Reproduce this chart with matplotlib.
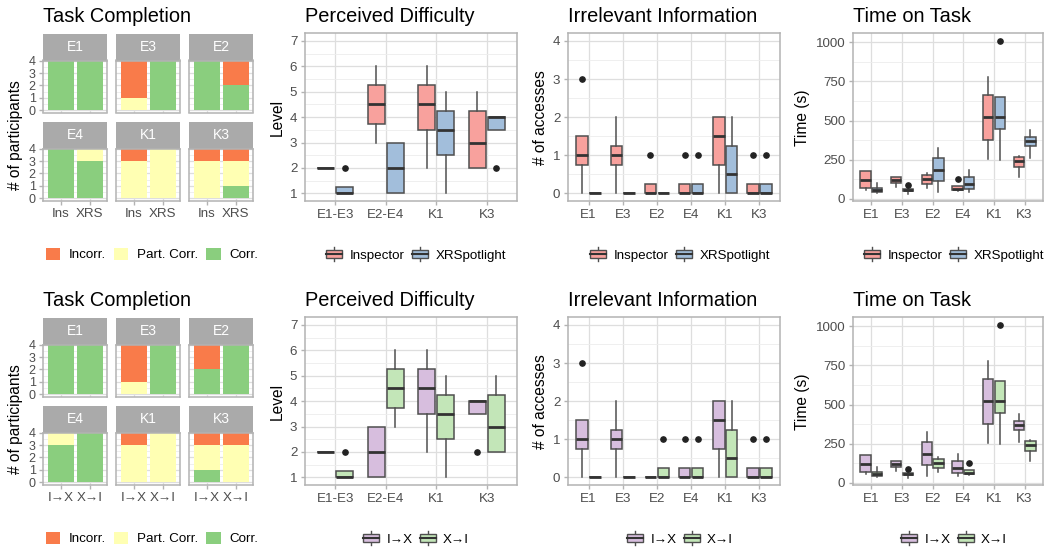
import numpy as np
import matplotlib
matplotlib.use('Agg')
import matplotlib.pyplot as plt
from matplotlib.patches import Rectangle, Patch
from matplotlib.lines import Line2D
from matplotlib.legend_handler import HandlerBase

plt.rcParams['font.family'] = ['Liberation Sans', 'DejaVu Sans']

# ── Dati ──────────────────────────────────────────────────────────────
tc_tasks = ['E1', 'E3', 'E2', 'E4', 'K1', 'K3']
tc_labels_top = ['Ins', 'XRS']
tc_labels_bot = ['I→X', 'X→I']
tc_levels = ['Incorr.', 'Part. Corr.', 'Corr.']

# riga alta: Inspector / XRSpotlight
tc_top_corr_a = [4, 0, 4, 4, 0, 0]
tc_top_part_a = [0, 1, 0, 0, 3, 3]
tc_top_inc_a  = [0, 3, 0, 0, 1, 1]
tc_top_corr_b = [4, 4, 2, 3, 0, 1]
tc_top_part_b = [0, 0, 0, 1, 4, 2]
tc_top_inc_b  = [0, 0, 2, 0, 0, 1]
# riga bassa: I->X / X->I
tc_bot_corr_a = [4, 0, 2, 3, 0, 1]
tc_bot_part_a = [0, 1, 0, 1, 3, 2]
tc_bot_inc_a  = [0, 3, 2, 0, 1, 1]
tc_bot_corr_b = [4, 4, 4, 4, 0, 0]
tc_bot_part_b = [0, 0, 0, 0, 4, 3]
tc_bot_inc_b  = [0, 0, 0, 0, 0, 1]

# boxplot stats: (whislo, q1, med, q3, whishi)
diff_cats = ['E1-E3', 'E2-E4', 'K1', 'K3']
diff_ins = [(2, 2, 2, 2, 2), (3, 3.75, 4.5, 5.25, 6), (2, 3.5, 4.5, 5.25, 6), (2, 2, 3, 4.25, 5)]
diff_ins_out = [[], [], [], []]
diff_xrs = [(1, 1, 1, 1.25, 1.25), (1, 1, 2, 3, 3), (1, 2.5, 3.5, 4.25, 5), (3.5, 3.5, 4, 4, 4)]
diff_xrs_out = [[2], [], [], [2]]
diff_ix = [(2, 2, 2, 2, 2), (1, 1, 2, 3, 3), (2, 3.5, 4.5, 5.25, 6), (3.5, 3.5, 4, 4, 4)]
diff_ix_out = [[], [], [], [2]]
diff_xi = [(1, 1, 1, 1.25, 1.25), (3, 3.75, 4.5, 5.25, 6), (1, 2.5, 3.5, 4.25, 5), (2, 2, 3, 4.25, 5)]
diff_xi_out = [[2], [], [], []]

irr_cats = ['E1', 'E3', 'E2', 'E4', 'K1', 'K3']
irr_ins = [(0, 0.75, 1, 1.5, 1.5), (0, 0.75, 1, 1.25, 2), (0, 0, 0, 0.25, 0.25),
           (0, 0, 0, 0.25, 0.25), (0, 0.75, 1.5, 2, 2), (0, 0, 0, 0.25, 0.25)]
irr_ins_out = [[3], [], [1], [1], [], [1]]
irr_xrs = [(0, 0, 0, 0, 0), (0, 0, 0, 0, 0), (0, 0, 0, 0, 0),
           (0, 0, 0, 0.25, 0.25), (0, 0, 0.5, 1.25, 2), (0, 0, 0, 0.25, 0.25)]
irr_xrs_out = [[], [], [], [1], [], [1]]
irr_ix = [(0, 0.75, 1, 1.5, 1.5), (0, 0.75, 1, 1.25, 2), (0, 0, 0, 0, 0),
          (0, 0, 0, 0.25, 0.25), (0, 0.75, 1.5, 2, 2), (0, 0, 0, 0.25, 0.25)]
irr_ix_out = [[3], [], [], [1], [], [1]]
irr_xi = [(0, 0, 0, 0, 0), (0, 0, 0, 0, 0), (0, 0, 0, 0.25, 0.25),
          (0, 0, 0, 0.25, 0.25), (0, 0, 0.5, 1.25, 2), (0, 0, 0, 0.25, 0.25)]
irr_xi_out = [[], [], [1], [1], [], [1]]

time_cats = ['E1', 'E3', 'E2', 'E4', 'K1', 'K3']
time_ins = [(60, 67, 124, 176, 178), (75, 103, 122, 138, 140), (68, 98, 128, 150, 165),
            (52, 55, 65, 80, 82), (258, 375, 520, 665, 780), (138, 203, 245, 268, 272)]
time_ins_out = [[], [], [], [128], [], []]
time_xrs = [(38, 42, 55, 70, 100), (32, 48, 55, 65, 70), (45, 112, 186, 262, 325),
            (45, 62, 98, 138, 182), (250, 448, 525, 652, 652), (260, 335, 367, 395, 440)]
time_xrs_out = [[], [92], [], [], [1005], []]
time_ix = [(60, 67, 124, 176, 178), (75, 103, 122, 138, 140), (45, 112, 186, 262, 325),
           (45, 62, 98, 138, 182), (258, 375, 520, 665, 780), (260, 335, 367, 395, 440)]
time_ix_out = [[], [], [], [], [], []]
time_xi = [(38, 42, 55, 70, 100), (32, 48, 55, 65, 70), (68, 98, 128, 150, 165),
           (52, 55, 65, 80, 82), (250, 448, 525, 652, 652), (138, 203, 245, 268, 272)]
time_xi_out = [[], [92], [], [128], [1005], []]

# ── Stile ─────────────────────────────────────────────────────────────
C_INC, C_PART, C_CORR = '#F97B4A', '#FFFFB3', '#8ACE7E'
C_INS, C_XRS = '#F8A19D', '#A2BEDB'
C_IX, C_XI = '#D7BEDE', '#C3E6B8'
EDGE, MED = '#4F4F4F', '#333333'
BORDER, GRID, GRID_MIN = '#B3B3B3', '#DEDEDE', '#EDEDED'
TICKLAB = '#4D4D4D'

W, H = 1053, 551
fig = plt.figure(figsize=(W / 100, H / 100), dpi=100)


def rect(x, y, w, h):
    return [x / W, 1 - (y + h) / H, w / W, h / H]


def style(ax):
    for s in ax.spines.values():
        s.set_color(BORDER)
        s.set_linewidth(1.1)
    ax.tick_params(which='major', colors=BORDER, labelcolor=TICKLAB, length=3,
                   width=1, labelsize=9.6, pad=2.5)
    ax.tick_params(which='minor', length=0)
    ax.grid(which='major', color=GRID, lw=0.9)
    ax.grid(which='minor', axis='y', color=GRID_MIN, lw=0.6)
    ax.set_axisbelow(True)


class BoxKey(HandlerBase):
    def create_artists(self, legend, orig, xd, yd, w, h, fs, trans):
        x0, y0 = -xd, -yd
        cx = x0 + w / 2
        fc = orig.get_facecolor()
        wl = Line2D([cx, cx], [y0, y0 + 0.22 * h], color=EDGE, lw=1, transform=trans)
        wh = Line2D([cx, cx], [y0 + 0.78 * h, y0 + h], color=EDGE, lw=1, transform=trans)
        r = Rectangle((x0, y0 + 0.22 * h), w, 0.56 * h, facecolor=fc, edgecolor=EDGE,
                      lw=1, transform=trans)
        m = Line2D([x0, x0 + w], [y0 + h / 2] * 2, color=MED, lw=1.5, transform=trans)
        return [wl, wh, r, m]


def draw_facets(dy, xlabels, corr_a, part_a, inc_a, corr_b, part_b, inc_b):
    fx = [43.3, 116.3, 189.3]
    strip_top = [34, 122]
    for k, task in enumerate(tc_tasks):
        r, c = divmod(k, 3)
        st = ax_s = fig.add_axes(rect(fx[c], strip_top[r] + dy, 64, 26.5))
        ax_s.set_facecolor('#AAAAAA')
        ax_s.set_xticks([]); ax_s.set_yticks([])
        for s in ax_s.spines.values():
            s.set_visible(False)
        ax_s.text(0.5, 0.5, task, color='white', fontsize=10, ha='center', va='center',
                  transform=ax_s.transAxes)
        ax = fig.add_axes(rect(fx[c], strip_top[r] + 26.5 + dy, 64, 52))
        style(ax)
        x = np.array([1, 2])
        cv = np.array([corr_a[k], corr_b[k]])
        pv = np.array([part_a[k], part_b[k]])
        iv = np.array([inc_a[k], inc_b[k]])
        ax.bar(x, cv, width=0.9, color=C_CORR)
        ax.bar(x, pv, width=0.9, bottom=cv, color=C_PART)
        ax.bar(x, iv, width=0.9, bottom=cv + pv, color=C_INC)
        ax.set_xlim(0.4, 2.6)
        ax.set_ylim(-0.2, 4.02)
        ax.set_yticks([0, 1, 2, 3, 4])
        ax.set_yticks([0.5, 1.5, 2.5, 3.5], minor=True)
        ax.set_xticks([1, 2])
        ax.tick_params(labelsize=9)
        if c > 0:
            ax.tick_params(axis='y', length=0, labelleft=False)
        if r == 1:
            ax.set_xticklabels(xlabels, fontsize=9.6)
        else:
            ax.tick_params(axis='x', length=0, labelbottom=False)
    fig.text(15.5 / W, 1 - (135 + dy) / H, '# of participants', rotation=90,
             ha='center', va='center', fontsize=11.2)
    fig.text(43 / W, 1 - (21.7 + dy) / H, 'Task Completion', fontsize=14.4,
             ha='left', va='baseline')
    handles = [Patch(facecolor=C_INC, label=tc_levels[0]),
               Patch(facecolor=C_PART, label=tc_levels[1]),
               Patch(facecolor=C_CORR, label=tc_levels[2])]
    fig.legend(handles=handles, loc='center', bbox_to_anchor=(152 / W, 1 - (254.5 + dy) / H),
               ncol=3, frameon=False, fontsize=9.6, handlelength=1.08, handleheight=1.08,
               handletextpad=0.65, columnspacing=0.6)


def draw_box_panel(x0, dy, w, cats, sa, oa, sb, ob, cols, labs, ylim, yt, ymin,
                   ylabel, ylab_x, title, leg_cx):
    ax = fig.add_axes(rect(x0, 33.3 + dy, w, 167.7))
    style(ax)
    pos = np.arange(1, len(cats) + 1)
    for stats, outs, off, col in ((sa, oa, -0.1875, cols[0]), (sb, ob, 0.1875, cols[1])):
        bx = [dict(whislo=s[0], q1=s[1], med=s[2], q3=s[3], whishi=s[4], fliers=o)
              for s, o in zip(stats, outs)]
        ax.bxp(bx, positions=pos + off, widths=0.3375, patch_artist=True, showcaps=False,
               manage_ticks=False,
               boxprops=dict(facecolor=col, edgecolor=EDGE, linewidth=1.1),
               medianprops=dict(color=MED, linewidth=2),
               whiskerprops=dict(color=EDGE, linewidth=1.1),
               flierprops=dict(marker='o', markersize=3.8, markerfacecolor='#222222',
                               markeredgecolor='#222222'))
    ax.set_xlim(0.4, len(cats) + 0.6)
    ax.set_ylim(*ylim)
    ax.set_xticks(pos)
    ax.set_xticklabels(cats)
    ax.set_yticks(yt)
    ax.set_yticks(ymin, minor=True)
    fig.text(ylab_x / W, 1 - (117.5 + dy) / H, ylabel, rotation=90, ha='center',
             va='center', fontsize=11.2)
    fig.text(x0 / W, 1 - (21.7 + dy) / H, title, fontsize=14.4, ha='left', va='baseline')
    handles = [Patch(facecolor=cols[0], label=labs[0]), Patch(facecolor=cols[1], label=labs[1])]
    fig.legend(handles=handles, loc='center', bbox_to_anchor=(leg_cx / W, 1 - (254.5 + dy) / H),
               ncol=2, frameon=False, fontsize=9.6, handlelength=1.2, handleheight=1.25,
               handletextpad=0.55, columnspacing=0.55, handler_map={Patch: BoxKey()})
    return ax


rows = [
    (0, tc_labels_top, (tc_top_corr_a, tc_top_part_a, tc_top_inc_a, tc_top_corr_b, tc_top_part_b, tc_top_inc_b),
     (C_INS, C_XRS), ('Inspector', 'XRSpotlight'),
     (diff_ins, diff_ins_out, diff_xrs, diff_xrs_out),
     (irr_ins, irr_ins_out, irr_xrs, irr_xrs_out),
     (time_ins, time_ins_out, time_xrs, time_xrs_out)),
    (284, tc_labels_bot, (tc_bot_corr_a, tc_bot_part_a, tc_bot_inc_a, tc_bot_corr_b, tc_bot_part_b, tc_bot_inc_b),
     (C_IX, C_XI), ('I→X', 'X→I'),
     (diff_ix, diff_ix_out, diff_xi, diff_xi_out),
     (irr_ix, irr_ix_out, irr_xi, irr_xi_out),
     (time_ix, time_ix_out, time_xi, time_xi_out)),
]

for dy, xl, tc, cols, labs, dd, ii, tt in rows:
    draw_facets(dy, xl, *tc)
    draw_box_panel(305, dy, 212, diff_cats, *dd, cols, labs, (0.7, 7.3),
                   [1, 2, 3, 4, 5, 6, 7], [1.5, 2.5, 3.5, 4.5, 5.5, 6.5],
                   'Level', 277.5, 'Perceived Difficulty', 416)
    draw_box_panel(568, dy, 212, irr_cats, *ii, cols, labs, (-0.2, 4.2),
                   [0, 1, 2, 3, 4], [0.5, 1.5, 2.5, 3.5],
                   '# of accesses', 540.5, 'Irrelevant Information', 680)
    draw_box_panel(853, dy, 190, time_cats, *tt, cols, labs, (-13, 1057),
                   [0, 250, 500, 750, 1000], [125, 375, 625, 875],
                   'Time (s)', 803, 'Time on Task', 954)

fig.savefig('out.png', dpi=100)
